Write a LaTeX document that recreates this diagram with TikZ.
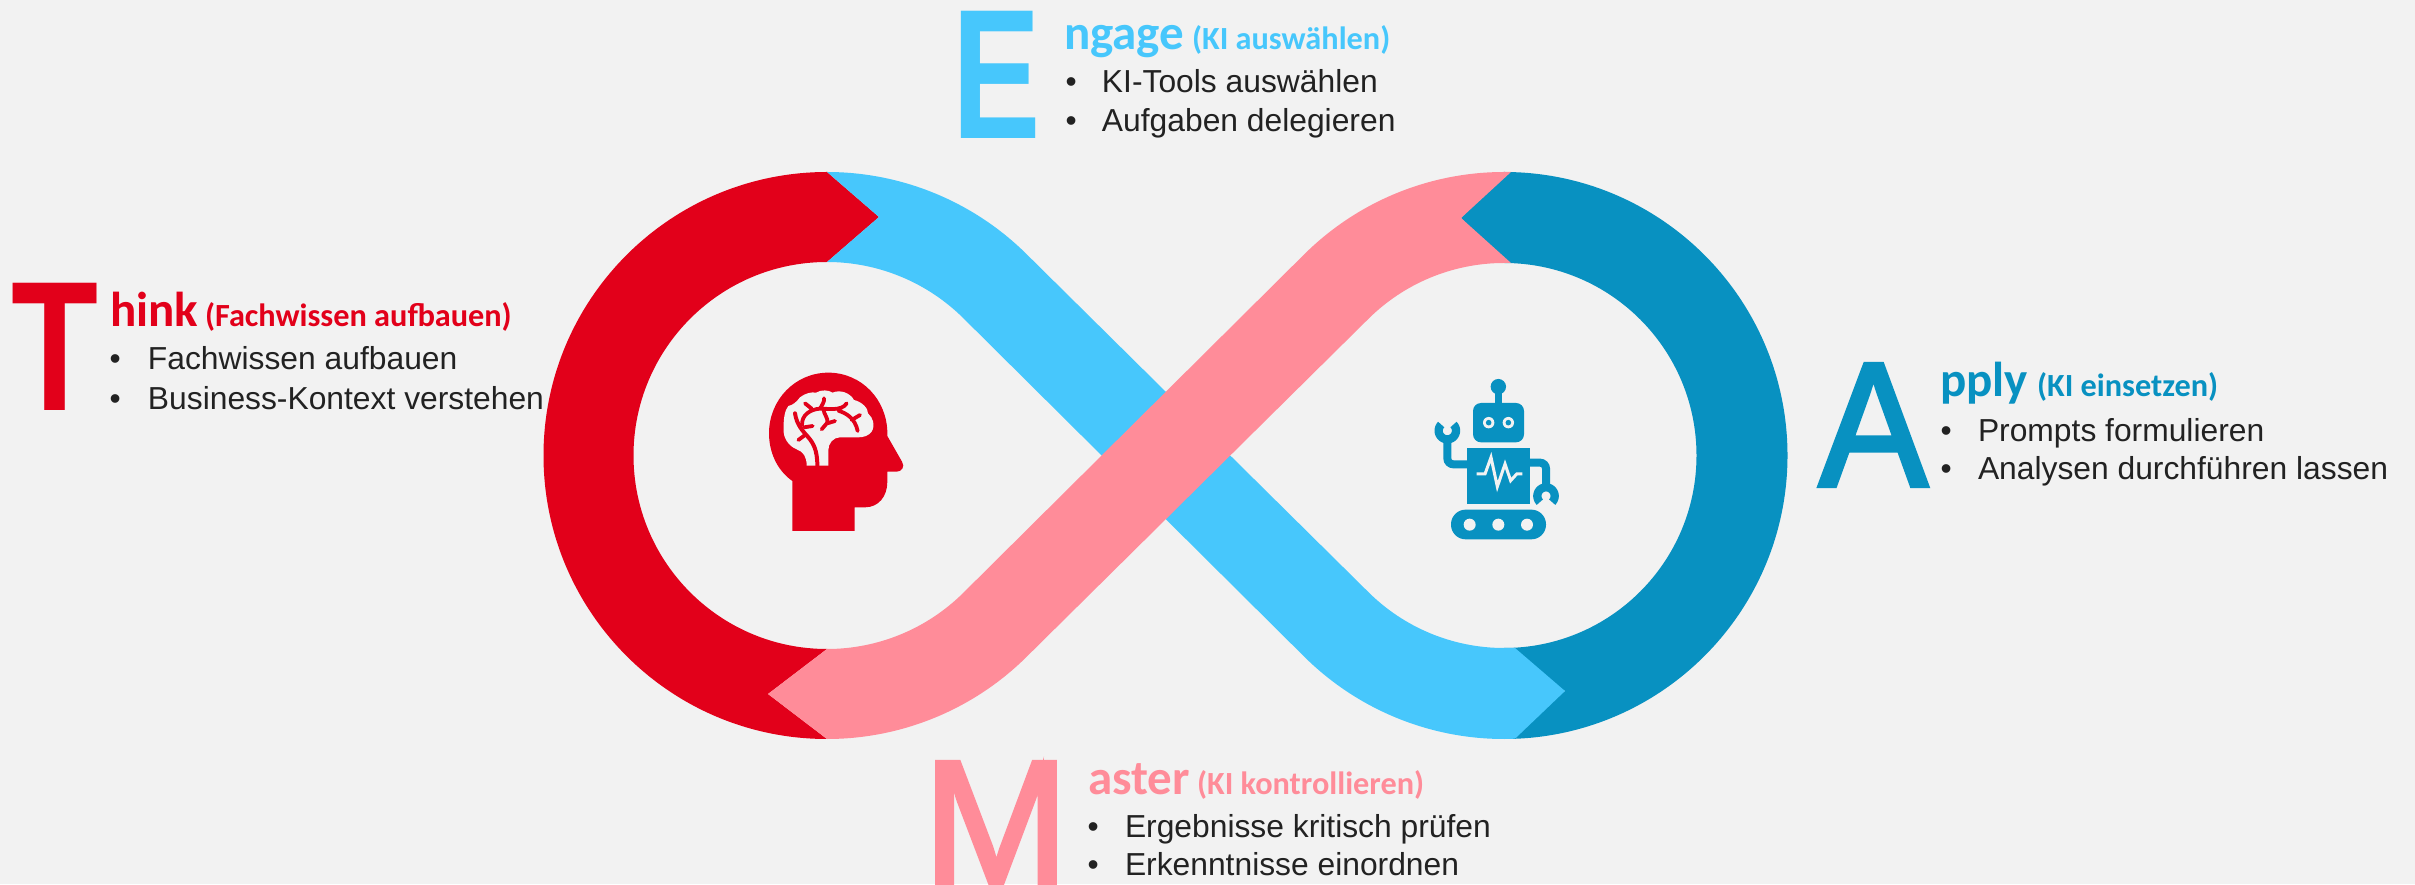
\documentclass[tikz,border=0pt]{standalone}
\usepackage{fontspec}
\usepackage{graphicx}
\usetikzlibrary{calc}
\setmainfont{Liberation Sans}
\newfontfamily\headf{Carlito}
\newfontfamily\bigthin[FakeBold=2.5]{Liberation Sans}
\definecolor{bgc}{HTML}{F2F2F2}
\definecolor{thinkc}{HTML}{E2001A}
\definecolor{engagec}{HTML}{47C7FC}
\definecolor{applyc}{HTML}{0891C1}
\definecolor{masterc}{HTML}{FF8C99}
\definecolor{bodyc}{HTML}{222222}
\newcommand{\bigfs}{\bfseries\fontsize{185}{185}\selectfont}
\newcommand{\bigfr}{\bigthin\fontsize{177}{177}\selectfont}
\newcommand{\headfs}{\headf\bfseries\fontsize{49}{49}\selectfont}
\newcommand{\subfs}{\headf\bfseries\fontsize{32.3}{32.3}\selectfont}
\tikzset{
  txt/.style={anchor=base west,inner sep=0pt,outer sep=0pt},
  bodytxt/.style={txt,text=bodyc,font=\fontsize{31.8}{31.8}\selectfont}
}
\newcommand{\bul}[2]{\makebox[#1pt][l]{•}#2}
\begin{document}
\begin{tikzpicture}[x=1pt,y=1pt]
\useasboundingbox (0,0) rectangle (2415,884);
\clip (0,0) rectangle (2415,884);
\fill[bgc] (0,0) rectangle (2415,884);
\coordinate (cl) at (827,428.5);
\coordinate (cr) at (1504,428.5);
% red
\fill[thinkc] ($(cl)+(90:283.5)$) arc[start angle=90,end angle=270,radius=283.5pt]
  -- (768,190) -- ($(cl)+(-90:193.5)$) arc[start angle=270,end angle=90,radius=193.5pt]
  -- (879,667) -- cycle;
% dark blue
\fill[applyc] ($(cr)+(90:283.5)$) arc[start angle=90,end angle=-90,radius=283.5pt]
  -- (1565,193) -- ($(cr)+(-90:192.5)$) arc[start angle=-90,end angle=90,radius=192.5pt]
  -- (1461,666) -- cycle;
% blue
\fill[engagec] ($(cl)+(90:283.5)$) arc[start angle=90,end angle=45,radius=283.5pt]
  -- ($(cr)+(225:192.5)$) arc[start angle=225,end angle=270,radius=192.5pt]
  -- (1515,236) -- (1565,193) -- (1515,145.3) -- ($(cr)+(270:283.5)$)
  arc[start angle=270,end angle=225,radius=283.5pt]
  -- ($(cl)+(45:193.5)$) arc[start angle=45,end angle=90,radius=193.5pt]
  -- (879,667) -- cycle;
% pink
\fill[masterc] (1511,712) -- ($(cr)+(90:283.5)$) arc[start angle=90,end angle=135,radius=283.5pt]
  -- ($(cl)+(-45:193.5)$) arc[start angle=-45,end angle=-90,radius=193.5pt]
  -- (768,190) -- ($(cl)+(-90:283.5)$) arc[start angle=-90,end angle=-45,radius=283.5pt]
  -- ($(cr)+(135:192.5)$) arc[start angle=135,end angle=90,radius=192.5pt]
  -- (1511,621) -- (1461,666) -- cycle;
% head icon
\begin{scope}[shift={(730,534)},x=0.33333pt,y=-0.33333pt]
\fill[thinkc] (187,543) -- (187,393) .. controls (140,360) and (117,305) .. (117,250)
  .. controls (117,150) and (195,68) .. (295,68)
  .. controls (395,68) and (472,150) .. (472,250) -- (472,258) -- (516,335)
  .. controls (526,350) and (515,365) .. (500,365) -- (472,365) -- (472,395)
  .. controls (472,440) and (445,472) .. (405,472) -- (374,472) -- (374,543) -- cycle;
\fill[bgc] (230,347) .. controls (230,320) and (220,305) .. (200,298)
  .. controls (175,288) and (158,262) .. (161,235)
  .. controls (160,205) and (165,180) .. (175,168)
  .. controls (190,165) and (200,155) .. (210,142)
  .. controls (225,130) and (245,125) .. (258,128)
  .. controls (275,118) and (295,120) .. (308,128)
  .. controls (330,118) and (360,128) .. (372,150)
  .. controls (395,155) and (415,175) .. (414,190)
  .. controls (430,205) and (436,225) .. (425,245)
  .. controls (415,258) and (400,262) .. (385,262)
  -- (330,262) .. controls (310,262) and (295,280) .. (295,300) -- (295,347) -- cycle;
\draw[thinkc,line width=4pt,line cap=round,line join=round]
  (262,347) .. controls (262,300) and (250,280) .. (235,262)
  .. controls (220,245) and (200,225) .. (195,190);
\draw[thinkc,line width=3.8pt,line cap=round,line join=round]
  (205,270) -- (225,255)
  (222,232) -- (248,228)
  (216,225) .. controls (215,195) and (240,178) .. (270,176)
  .. controls (290,175) and (335,185) .. (350,160)
  (225,160) -- (245,176)
  (270,176) .. controls (276,165) and (284,155) .. (282,145)
  (280,178) .. controls (283,195) and (295,205) .. (292,218) -- (275,238)
  (292,220) -- (315,213)
  (325,182) .. controls (350,190) and (375,205) .. (383,243)
  (365,210) -- (390,195);
\end{scope}
% robot icon
\begin{scope}[shift={(1410,524)},x=0.33333pt,y=-0.33333pt]
\fill[applyc] (265,80) circle[radius=7.7pt];
\fill[applyc] (254,95) rectangle (276,135);
\fill[applyc,rounded corners=8pt] (189,129) rectangle (342,247);
\fill[bgc] (236,188) circle[radius=5.7pt] (295,188) circle[radius=5.7pt];
\fill[applyc] (236,188) circle[radius=2.8pt] (295,188) circle[radius=2.8pt];
\fill[applyc] (171,265) rectangle (360,432);
\draw[bgc,line width=3pt,line join=miter] (200,342) -- (225,342) -- (243,292) -- (262,380) -- (285,312) -- (302,362) -- (320,342) -- (337,342);
\draw[applyc,line width=8pt,rounded corners=6pt] (171,313) -- (112,313) -- (112,235);
\draw[applyc,line width=8pt,rounded corners=6pt] (360,308) -- (408,308) -- (408,385);
\draw[applyc,line width=8.3pt] plot[domain=-45:225,samples=40] ({112+26*cos(\x)},{212+26*sin(\x)});
\draw[applyc,line width=8.3pt] plot[domain=135:405,samples=40] ({408+26*cos(\x)},{408+26*sin(\x)});
\fill[applyc,rounded corners=14.6pt] (123,449) rectangle (408,538);
\fill[bgc] (179,494) circle[radius=6pt] (265,494) circle[radius=6pt] (351,494) circle[radius=6pt];
\end{scope}
% Think
\node[txt,text=thinkc,font=\bigfs] (tT) at (12,473) {\scalebox{0.77}[1]{T}};
\node[txt,text=thinkc,font=\headfs] (tH) at (110,557) {hink};
\node[txt,text=thinkc,font=\subfs] (tS) at (205,557) {(Fachwissen aufbauen)};
\node[bodytxt] (tA) at (109.5,514.5) {\bul{38.5}{Fachwissen aufbauen}};
\node[bodytxt] (tB) at (109.5,474.5) {\bul{38.5}{Business-Kontext verstehen}};
% Engage
\node[txt,text=engagec,font=\bigfs] (eE) at (952.5,745) {\scalebox{0.716}[1]{E}};
\node[txt,text=engagec,font=\headfs] (eH) at (1064,834) {ngage};
\node[txt,text=engagec,font=\subfs] (eS) at (1192,834) {(KI auswählen)};
\node[bodytxt] (eA) at (1065.5,791) {\bul{36.5}{KI-Tools auswählen}};
\node[bodytxt] (eB) at (1065.5,752) {\bul{36.5}{Aufgaben delegieren}};
% Master
\node[txt,text=masterc,font=\bigfr] (mM) at (923,0) {\scalebox{0.99}[1]{M}};
\node[txt,text=masterc,font=\headfs] (mH) at (1088,90) {aster};
\node[txt,text=masterc,font=\subfs] (mS) at (1197,90) {(KI kontrollieren)};
\node[bodytxt] (mA) at (1087.5,46.5) {\bul{37.5}{Ergebnisse kritisch prüfen}};
\node[bodytxt] (mB) at (1087.5,8.5) {\bul{37.5}{Erkenntnisse einordnen}};
% Apply
\node[txt,text=applyc,font=\bigfr] (aA) at (1819,398) {\scalebox{0.92}[1]{A}};
\node[txt,text=applyc,font=\headfs] (aH) at (1940,487) {pply};
\node[txt,text=applyc,font=\subfs] (aS) at (2037,487) {(KI einsetzen)};
\node[bodytxt] (aB1) at (1940.5,442.5) {\bul{37.5}{Prompts formulieren}};
\node[bodytxt] (aB2) at (1940.5,404.5) {\bul{37.5}{Analysen durchführen lassen}};
\end{tikzpicture}
\end{document}
